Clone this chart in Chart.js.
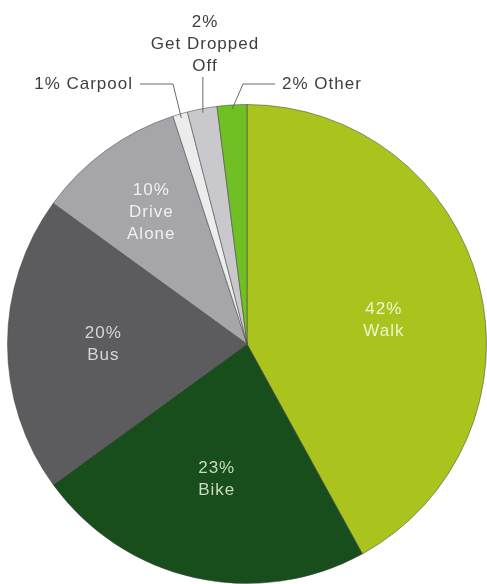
<!DOCTYPE html>
<html>
<head>
<meta charset="utf-8">
<script src="https://cdn.jsdelivr.net/npm/chart.js@4/dist/chart.umd.min.js"></script>
<style>
  html, body { margin: 0; padding: 0; background: #fff; }
  #wrap { width: 487px; height: 584px; }
</style>
</head>
<body>
<div id="wrap"><canvas id="modeChart"></canvas></div>
<script>
const modes = ['Walk', 'Bike', 'Bus', 'Drive Alone', 'Carpool', 'Get Dropped Off', 'Other'];
const shares = [42, 23, 20, 10, 1, 2, 2];

const sliceColors = [
    '#aac41d', // walk
    '#174e1c', // bike
    '#5c5c5e', // bus
    '#a6a6aa', // drive alone
    '#ececec', // carpool
    '#c9c9cd', // dropped off
    '#70c025'  // other
];

// labels drawn inside the big slices: text lines, colour, distance from centre (fraction of radius)
const insideLabels = {
    0: { lines: ['42%', 'Walk'], color: '#eef4cf', r: 0.59, dy: 11 },
    1: { lines: ['23%', 'Bike'], color: '#c9d9c2', r: 0.58, dy: 0 },
    2: { lines: ['20%', 'Bus'], color: '#d6d6d6', r: 0.6, dy: 0 },
    3: { lines: ['10%', 'Drive', 'Alone'], color: '#f0f0f0', r: 0.68, dy: 0 }
};

// small slices get text outside with a leader line
const outsideLabels = {
    4: { lines: ['1% Carpool'], align: 'right', x: 133, y: 84, elbow: 173 },
    5: { lines: ['2%', 'Get Dropped', 'Off'], align: 'center', x: 205, y: 22, elbow: null },
    6: { lines: ['2% Other'], align: 'left', x: 282, y: 84, elbow: 243 }
};

const labelPlugin = {
    id: 'sliceLabels',
    afterDatasetsDraw(chart) {
        const ctx = chart.ctx;
        const arcs = chart.getDatasetMeta(0).data;
        ctx.save();
        ctx.font = '17px "Liberation Sans", Arial, sans-serif';
        ctx.letterSpacing = '1px';
        ctx.textBaseline = 'middle';

        arcs.forEach((arc, i) => {
            const mid = (arc.startAngle + arc.endAngle) / 2;
            const inside = insideLabels[i];
            if (inside) {
                const r = arc.outerRadius * inside.r;
                const cx = arc.x + Math.cos(mid) * r;
                const cy = arc.y + Math.sin(mid) * r + inside.dy;
                ctx.fillStyle = inside.color;
                ctx.textAlign = 'center';
                const lh = 22;
                const top = cy - (inside.lines.length - 1) * lh / 2;
                inside.lines.forEach((t, k) => ctx.fillText(t, cx, top + k * lh));
                return;
            }
            const out = outsideLabels[i];
            if (!out) return;
            const ex = arc.x + Math.cos(mid) * (arc.outerRadius - 4);
            const ey = arc.y + Math.sin(mid) * (arc.outerRadius - 4);
            ctx.strokeStyle = '#6a6a6a';
            ctx.lineWidth = 1;
            ctx.beginPath();
            if (out.elbow !== null) {
                const lineEnd = out.align === 'right' ? out.x + 7 : out.x - 7;
                ctx.moveTo(lineEnd, out.y);
                ctx.lineTo(out.elbow, out.y);
                ctx.lineTo(ex, ey);
            } else {
                ctx.moveTo(ex, out.y + (out.lines.length - 1) * 22 + 11);
                ctx.lineTo(ex, ey);
            }
            ctx.stroke();

            ctx.fillStyle = '#3e3e3e';
            ctx.textAlign = out.align;
            out.lines.forEach((t, k) => ctx.fillText(t, out.x, out.y + k * 22));
        });
        ctx.restore();
    }
};

document.addEventListener('DOMContentLoaded', () => {
    const ctx = document.getElementById('modeChart').getContext('2d');
    new Chart(ctx, {
        type: 'pie',
        data: {
            labels: modes,
            datasets: [{
                data: shares,
                backgroundColor: sliceColors,
                borderColor: 'rgba(70,70,70,0.55)',
                borderWidth: 1
            }]
        },
        options: {
            responsive: true,
            maintainAspectRatio: false,
            animation: false,
            layout: {
                padding: { left: 7, right: 0, top: 104, bottom: 0 }
            },
            plugins: {
                legend: { display: false },
                tooltip: { enabled: false },
                title: { display: false }
            }
        },
        plugins: [labelPlugin]
    });
});
</script>
</body>
</html>
